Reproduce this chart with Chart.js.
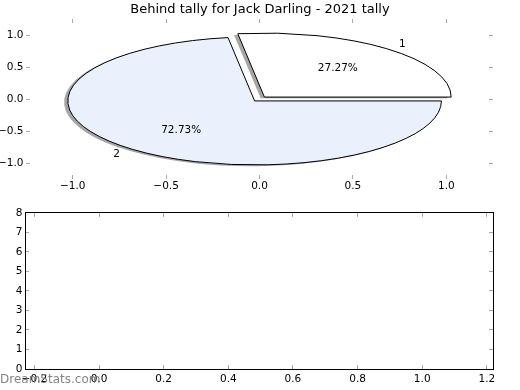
<!DOCTYPE html>
<html>
<head>
<meta charset="utf-8">
<script src="https://cdn.jsdelivr.net/npm/chart.js@4.4.1/dist/chart.umd.min.js"></script>
<style>
  html, body { margin: 0; padding: 0; background: #fff; }
  #wrap { position: relative; width: 520px; height: 390px; }
  canvas { position: absolute; left: 0; }
</style>
</head>
<body>
<div id="wrap">
  <canvas id="pieAxes" width="520" height="200" style="top:0"></canvas>
  <canvas id="pie" width="520" height="200" style="top:0"></canvas>
  <canvas id="empty" width="520" height="190" style="top:200px"></canvas>
</div>
<script>
const title = "Behind tally for Jack Darling - 2021 tally";
const sliceLabels = ["1", "2"];
const sliceValues = [3, 8];
const sliceColors = ["#ffffff", "#eaf0fc"];
const sliceExplode = [0.04, 0.04];
const pieTicks = [-1.0, -0.5, 0.0, 0.5, 1.0];
const pieRange = [-1.25, 1.25];
const emptyXTicks = [-0.2, 0.0, 0.2, 0.4, 0.6, 0.8, 1.0, 1.2];
const emptyYTicks = [0, 1, 2, 3, 4, 5, 6, 7, 8];
const emptyXRange = [-0.229, 1.219];
const emptyYRange = [0, 8];
const watermark = "DreamStats.com";

const FAMILY = "'DejaVu Sans'";
const tickFont = { family: FAMILY, size: 10.5 };
const PIE_R = 60; // radius of the pie before it is stretched into the axes
const LABEL_DIST = 1.1;
const PCT_DIST = 0.6;
const SHADOW = 0.02;

// "-0.5" -> "−0.5" like matplotlib
const fmt1 = (v) => v.toFixed(1).replace("-", "\u2212");
const fmt0 = (v) => String(v);

/*
 * one axis with matplotlib-like inward tick marks.
 * fit is the fixed thickness of the axis box, so both charts line up.
 */
const axis = ({ position, range, ticks, fmt, fit, labels, pad, border }) => {
  const horizontal = position === "top" || position === "bottom";
  return {
    type: "linear",
    position,
    min: range[0],
    max: range[1],
    afterBuildTicks: (scale) => {
      scale.ticks = ticks.map((value) => ({ value }));
    },
    afterFit: (scale) => {
      if (horizontal) {
        scale.height = fit;
      } else {
        scale.width = fit;
      }
    },
    ticks: {
      display: labels,
      callback: fmt,
      font: tickFont,
      color: "#000",
      padding: pad,
      maxRotation: 0,
      autoSkip: false,
    },
    grid: {
      drawOnChartArea: false,
      drawTicks: true,
      tickLength: -4,
      tickColor: "#a8a8a8",
      tickWidth: 1,
    },
    border: { display: border, color: "#000", width: 1 },
  };
};

const pieAxes = new Chart(document.getElementById("pieAxes"), {
  type: "scatter",
  data: { datasets: [] },
  options: {
    responsive: false,
    animation: false,
    events: [],
    plugins: {
      legend: { display: false },
      tooltip: { enabled: false },
      title: {
        display: true,
        text: title,
        color: "#000",
        font: { family: FAMILY, size: 13, weight: "normal" },
        padding: { top: 2.3, bottom: 0 },
      },
    },
    scales: {
      x: axis({ position: "bottom", range: pieRange, ticks: pieTicks, fmt: fmt1, fit: 21, labels: true, pad: 5.2, border: false }),
      x2: axis({ position: "top", range: pieRange, ticks: pieTicks, fmt: fmt1, fit: 1.1, labels: false, pad: 0, border: false }),
      y: axis({ position: "left", range: pieRange, ticks: pieTicks, fmt: fmt1, fit: 26, labels: true, pad: 6.5, border: false }),
      y2: axis({ position: "right", range: pieRange, ticks: pieTicks, fmt: fmt1, fit: 27, labels: false, pad: 0, border: false }),
    },
  },
});

/*
 * stretches the pie onto the axes above (ellipse), explodes the slices,
 * adds the matplotlib style shadow and writes the labels.
 */
const pieShape = {
  id: "pieShape",
  afterDatasetUpdate(chart, { meta }) {
    meta.data.forEach((arc, i) => {
      const mid = (arc.startAngle + arc.endAngle) / 2;
      arc.x += Math.cos(mid) * sliceExplode[i] * PIE_R;
      arc.y += Math.sin(mid) * sliceExplode[i] * PIE_R;
    });
  },
  beforeDatasetsDraw(chart) {
    const ctx = chart.ctx;
    const { x, y } = pieAxes.scales;
    const area = chart.chartArea;
    const cx = (area.left + area.right) / 2;
    const cy = (area.top + area.bottom) / 2;
    const ox = x.getPixelForValue(0);
    const oy = y.getPixelForValue(0);
    const pxX = x.getPixelForValue(1) - ox;
    const pxY = oy - y.getPixelForValue(1);
    const base = ctx.getTransform();
    ctx.save();
    ctx.translate(ox, oy);
    ctx.scale(pxX / PIE_R, -pxY / PIE_R);
    ctx.translate(-cx, -cy);
    ctx.shadowColor = "rgba(77,77,77,0.5)";
    ctx.shadowBlur = 0;
    ctx.shadowOffsetX = -SHADOW * pxX;
    ctx.shadowOffsetY = SHADOW * pxY;
    // keep edges 1px wide: stroke the stretched path without the stretch
    const stroke = ctx.stroke;
    ctx.stroke = function () {
      this.save();
      this.setTransform(base);
      this.shadowColor = "rgba(0,0,0,0)";
      stroke.call(this);
      this.restore();
    };
  },
  afterDatasetsDraw(chart) {
    const ctx = chart.ctx;
    delete ctx.stroke;
    ctx.restore();

    const { x, y } = pieAxes.scales;
    const ox = x.getPixelForValue(0);
    const oy = y.getPixelForValue(0);
    const pxX = x.getPixelForValue(1) - ox;
    const pxY = oy - y.getPixelForValue(1);
    const total = sliceValues.reduce((a, b) => a + b, 0);
    ctx.save();
    ctx.font = `10.5px ${FAMILY}`;
    ctx.fillStyle = "#000";
    ctx.textBaseline = "middle";
    chart.getDatasetMeta(0).data.forEach((arc, i) => {
      const mid = (arc.startAngle + arc.endAngle) / 2;
      const c = Math.cos(mid);
      const s = Math.sin(mid);
      const at = (d) => [
        ox + (d + sliceExplode[i]) * c * pxX,
        oy - (d + sliceExplode[i]) * s * pxY,
      ];
      const [lx, ly] = at(LABEL_DIST);
      ctx.textAlign = c >= 0 ? "left" : "right";
      ctx.fillText(sliceLabels[i], lx, ly);
      const [px, py] = at(PCT_DIST);
      ctx.textAlign = "center";
      ctx.fillText(((sliceValues[i] / total) * 100).toFixed(2) + "%", px, py);
    });
    ctx.restore();
  },
};

const pie = new Chart(document.getElementById("pie"), {
  type: "pie",
  data: {
    labels: sliceLabels,
    datasets: [
      {
        data: sliceValues,
        backgroundColor: sliceColors,
        borderColor: "#000",
        borderWidth: 1,
        borderJoinStyle: "miter",
        clip: false,
      },
    ],
  },
  options: {
    responsive: false,
    animation: false,
    events: [],
    rotation: 90, // start at 3 o'clock like matplotlib
    radius: PIE_R,
    plugins: { legend: { display: false }, tooltip: { enabled: false } },
  },
  plugins: [pieShape],
});

const watermarkPlugin = {
  id: "watermark",
  afterDraw(chart) {
    const ctx = chart.ctx;
    ctx.save();
    ctx.font = `12px ${FAMILY}`;
    ctx.fillStyle = "rgba(120,120,120,0.9)";
    ctx.textAlign = "left";
    ctx.textBaseline = "alphabetic";
    ctx.fillText(watermark, 0, 183);
    ctx.restore();
  },
};

const empty = new Chart(document.getElementById("empty"), {
  type: "scatter",
  data: { datasets: [] },
  options: {
    responsive: false,
    animation: false,
    events: [],
    plugins: { legend: { display: false }, tooltip: { enabled: false } },
    scales: {
      x: axis({ position: "bottom", range: emptyXRange, ticks: emptyXTicks, fmt: fmt1, fit: 21, labels: true, pad: 8.2, border: true }),
      x2: axis({ position: "top", range: emptyXRange, ticks: emptyXTicks, fmt: fmt1, fit: 11, labels: false, pad: 0, border: true }),
      y: axis({ position: "left", range: emptyYRange, ticks: emptyYTicks, fmt: fmt0, fit: 25, labels: true, pad: 6.5, border: true }),
      y2: axis({ position: "right", range: emptyYRange, ticks: emptyYTicks, fmt: fmt0, fit: 27, labels: false, pad: 0, border: true }),
    },
  },
  plugins: [watermarkPlugin],
});
</script>
</body>
</html>
